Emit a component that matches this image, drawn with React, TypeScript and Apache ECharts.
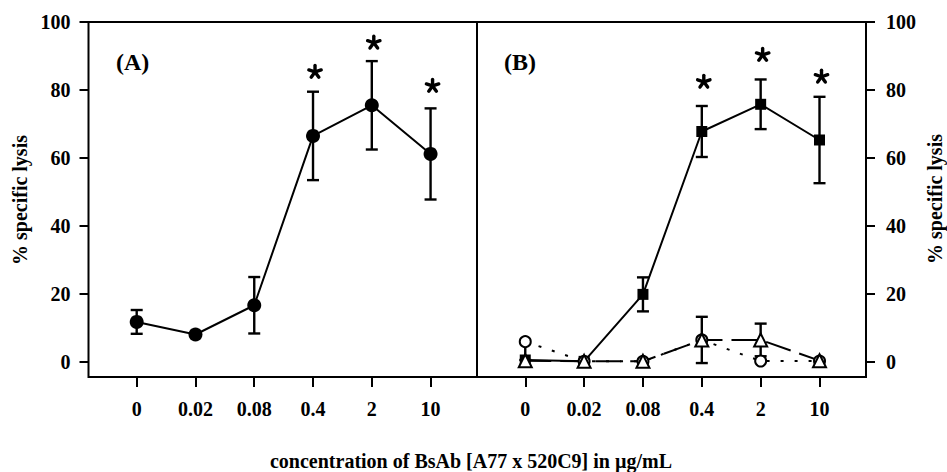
import React, { useEffect, useRef } from "react";
import * as echarts from "echarts";

const concLabels = ["0", "0.02", "0.08", "0.4", "2", "10"];
const yTicks = [0, 20, 40, 60, 80, 100];

// Panel A: BsAb (filled circles)
const aMean = [11.8, 8.1, 16.7, 66.5, 75.5, 61.2];
const aErr = [3.5, 0, 8.3, 13, 13, 13.4];
const aStar = [null, null, null, 85.3, 93.9, 81.2];

// Panel B: filled squares
const bSquare = [0.6, 0.2, 19.9, 67.8, 75.8, 65.3];
const bSquareErr = [0, 0, 5, 7.5, 7.3, 12.7];
// open circles (dotted)
const bCircle = [6.0, 0.2, 0.2, 6.5, 0.3, 0.3];
const bCircleErrLow = [5.4, 0, 0, 0, 0, 0];
const bCircleErrHigh = [0, 0, 0, 0, 0, 0];
// open triangles (dashed)
const bTriangle = [0.4, 0.2, 0.2, 6.5, 6.5, 0.4];
const bTriangleErr = [0, 0, 0, 6.8, 4.8, 0];
const bStar = [null, null, null, 82.4, 90.3, 83.9];

const FONT = "'Liberation Serif', 'Times New Roman', serif";

function errData(mean: number[], lo: number[], hi: number[]) {
  const out: number[][] = [];
  mean.forEach((m, i) => {
    if (lo[i] > 0 || hi[i] > 0) out.push([i, m - lo[i], m + hi[i], m]);
  });
  return out;
}

function errorSeries(data: number[][], gi: number) {
  return {
    type: "custom",
    xAxisIndex: gi,
    yAxisIndex: gi,
    data,
    z: 1,
    renderItem: (params: any, api: any) => {
      const x = api.value(0);
      const lo = api.value(1);
      const hi = api.value(2);
      const m = api.value(3);
      const pLo = api.coord([x, lo]);
      const pHi = api.coord([x, hi]);
      const hw = 6;
      const st = { stroke: "#000", lineWidth: 2.4 };
      const children: any[] = [
        { type: "line", shape: { x1: pLo[0], y1: pLo[1], x2: pHi[0], y2: pHi[1] }, style: st },
      ];
      if (hi > m)
        children.push({ type: "line", shape: { x1: pHi[0] - hw, y1: pHi[1], x2: pHi[0] + hw, y2: pHi[1] }, style: st });
      if (lo < m)
        children.push({ type: "line", shape: { x1: pLo[0] - hw, y1: pLo[1], x2: pLo[0] + hw, y2: pLo[1] }, style: st });
      return { type: "group", children };
    },
  };
}

function starSeries(vals: (number | null)[], gi: number) {
  const data: number[][] = [];
  vals.forEach((v, i) => {
    if (v != null) data.push([i, v]);
  });
  return {
    type: "custom",
    xAxisIndex: gi,
    yAxisIndex: gi,
    data,
    z: 5,
    renderItem: (params: any, api: any) => {
      const p = api.coord([api.value(0), api.value(1)]);
      const cx = p[0] + 2;
      const cy = p[1];
      const len = 6.5;
      const children: any[] = [];
      for (let k = 0; k < 5; k++) {
        const a = -Math.PI / 2 + (k * 2 * Math.PI) / 5;
        children.push({
          type: "line",
          shape: { x1: cx, y1: cy, x2: cx + len * Math.cos(a), y2: cy + len * Math.sin(a) },
          style: { stroke: "#000", lineWidth: 3.4, lineCap: "round" },
        });
      }
      return { type: "group", children };
    },
  };
}

function pts(vals: number[]) {
  return vals.map((v, i) => [i, v]);
}

export default function App() {
  const ref = useRef<HTMLDivElement>(null);
  useEffect(() => {
    if (!ref.current) return;
    const chart = echarts.init(ref.current, null, { renderer: "svg" });
    const labelStyle = { fontFamily: FONT, fontWeight: "bold" as const, fontSize: 20, color: "#000" };
    const xAxis = [0, 1].map((gi) => ({
      type: "value",
      gridIndex: gi,
      min: -0.82,
      max: 5.79,
      splitLine: { show: false },
      axisLine: { show: false, onZero: false },
      axisTick: { show: true, inside: false, length: 10, lineStyle: { color: "#000", width: 2 }, customValues: [0, 1, 2, 3, 4, 5] },
      axisLabel: {
        ...labelStyle,
        customValues: [0, 1, 2, 3, 4, 5],
        formatter: (v: number) => concLabels[Math.round(v)],
        margin: 22,
      },
    }));
    const yAxis = [0, 1].map((gi) => ({
      type: "value",
      gridIndex: gi,
      position: gi === 0 ? "left" : "right",
      min: -4.4,
      max: 100,
      splitLine: { show: false },
      axisLine: { show: false, onZero: false },
      axisTick: { show: true, inside: false, length: 9, lineStyle: { color: "#000", width: 2 }, customValues: yTicks },
      axisLabel: { ...labelStyle, customValues: yTicks, margin: gi === 0 ? 18 : 20 },
    }));
    const gridBase = { top: 22, height: 355, show: true, borderColor: "#000", borderWidth: 2, backgroundColor: "transparent" };
    const option: any = {
      animation: false,
      backgroundColor: "#fff",
      grid: [
        { ...gridBase, left: 88.5, width: 388.5 },
        { ...gridBase, left: 477, width: 389 },
      ],
      xAxis,
      yAxis,
      graphic: [
        { type: "text", x: 20, y: 200, rotation: Math.PI / 2, style: { text: "% specific lysis", font: `bold 20px ${FONT}`, fill: "#000", textAlign: "center", textVerticalAlign: "middle" } },
        { type: "text", x: 935, y: 199, rotation: Math.PI / 2, style: { text: "% specific lysis", font: `bold 20px ${FONT}`, fill: "#000", textAlign: "center", textVerticalAlign: "middle" } },
        { type: "text", x: 471, y: 461, style: { text: "concentration of BsAb [A77 x 520C9] in µg/mL", font: `bold 20px ${FONT}`, fill: "#000", textAlign: "center", textVerticalAlign: "middle" } },
        { type: "text", x: 116, y: 62, style: { text: "(A)", font: `bold 24px ${FONT}`, fill: "#000", textAlign: "left", textVerticalAlign: "middle" } },
        { type: "text", x: 504, y: 62, style: { text: "(B)", font: `bold 24px ${FONT}`, fill: "#000", textAlign: "left", textVerticalAlign: "middle" } },
      ],
      series: [
        errorSeries(errData(aMean, aErr, aErr), 0),
        {
          type: "line",
          xAxisIndex: 0,
          yAxisIndex: 0,
          data: pts(aMean),
          symbol: "circle",
          symbolSize: 14,
          itemStyle: { color: "#000" },
          lineStyle: { color: "#000", width: 2 },
          z: 3,
        },
        starSeries(aStar, 0),
        errorSeries(errData(bSquare, bSquareErr, bSquareErr), 1),
        errorSeries(errData(bCircle, bCircleErrLow, bCircleErrHigh), 1),
        errorSeries(errData(bTriangle, bTriangleErr, bTriangleErr), 1),
        {
          type: "line",
          xAxisIndex: 1,
          yAxisIndex: 1,
          data: pts(bSquare),
          symbol: "rect",
          symbolSize: 11,
          itemStyle: { color: "#000" },
          lineStyle: { color: "#000", width: 2 },
          z: 3,
        },
        {
          type: "line",
          xAxisIndex: 1,
          yAxisIndex: 1,
          data: pts(bCircle),
          symbol: "circle",
          symbolSize: 11,
          itemStyle: { color: "#fff", borderColor: "#000", borderWidth: 2 },
          lineStyle: { color: "#000", width: 2, type: [3, 11] },
          z: 4,
        },
        {
          type: "line",
          xAxisIndex: 1,
          yAxisIndex: 1,
          data: pts(bTriangle),
          symbol: "triangle",
          symbolSize: 13,
          itemStyle: { color: "#fff", borderColor: "#000", borderWidth: 2 },
          lineStyle: { color: "#000", width: 2, type: [26, 9] },
          z: 4,
        },
        starSeries(bStar, 1),
      ],
    };
    chart.setOption(option);
    return () => chart.dispose();
  }, []);
  return <div ref={ref} style={{ position: "fixed", left: 0, top: 0, width: 947, height: 472 }} />;
}
